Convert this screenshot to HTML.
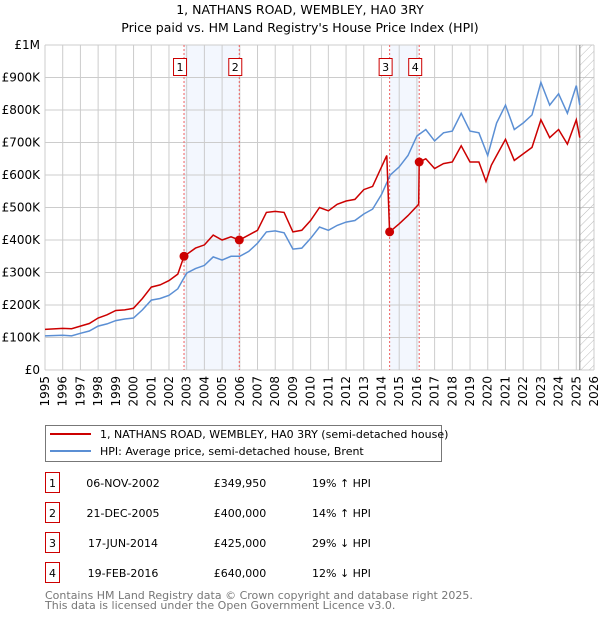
<!DOCTYPE html>
<html><head><meta charset="utf-8"><style>
body{margin:0;background:#fff;font-family:"Liberation Sans","DejaVu Sans",sans-serif;}
svg text{font-family:"DejaVu Sans","Liberation Sans",sans-serif;}
</style></head><body>
<svg id="c" width="600" height="620" xmlns="http://www.w3.org/2000/svg">
<defs><pattern id="hatch" width="6" height="6" patternUnits="userSpaceOnUse" patternTransform="rotate(45)"><line x1="0" y1="0" x2="0" y2="6" stroke="#bbb" stroke-width="1"/></pattern></defs>
<text x="300" y="14" text-anchor="middle" font-size="12.5">1, NATHANS ROAD, WEMBLEY, HA0 3RY</text>
<text x="300" y="32" text-anchor="middle" font-size="12.5">Price paid vs. HM Land Registry's House Price Index (HPI)</text>
<g id="plot"></g>
<g>
<rect x="45.5" y="425.5" width="396" height="36" fill="#fff" stroke="#777"/>
<line x1="50" y1="434" x2="91" y2="434" stroke="#cc0000" stroke-width="2"/>
<text x="100" y="438" font-size="11">1, NATHANS ROAD, WEMBLEY, HA0 3RY (semi-detached house)</text>
<line x1="50" y1="451" x2="91" y2="451" stroke="#5b8fd4" stroke-width="2"/>
<text x="100" y="455" font-size="11">HPI: Average price, semi-detached house, Brent</text>
</g>
<g id="table" font-size="11"></g>
<text x="45" y="599" font-size="11" fill="#777">Contains HM Land Registry data © Crown copyright and database right 2025.</text>
<text x="45" y="609" font-size="11" fill="#777">This data is licensed under the Open Government Licence v3.0.</text>
</svg>
<script>
const yTicks=[0,100000,200000,300000,400000,500000,600000,700000,800000,900000,1000000];
const yTickLabels=["£0","£100K","£200K","£300K","£400K","£500K","£600K","£700K","£800K","£900K","£1M"];
const years=[1995,1996,1997,1998,1999,2000,2001,2002,2003,2004,2005,2006,2007,2008,2009,2010,2011,2012,2013,2014,2015,2016,2017,2018,2019,2020,2021,2022,2023,2024,2025,2026];
const hpiT=[1995,1996,1996.5,1997,1997.5,1998,1998.5,1999,1999.5,2000,2000.5,2001,2001.5,2002,2002.5,2003,2003.5,2004,2004.5,2005,2005.5,2006,2006.5,2007,2007.5,2008,2008.5,2009,2009.5,2010,2010.5,2011,2011.5,2012,2012.5,2013,2013.5,2014,2014.5,2015,2015.5,2016,2016.5,2017,2017.5,2018,2018.5,2019,2019.5,2020,2020.5,2021,2021.5,2022,2022.5,2023,2023.5,2024,2024.5,2025,2025.2];
const hpiV=[105,107,105,113,120,135,142,152,157,160,185,215,220,230,250,298,312,322,348,338,350,350,365,390,425,428,422,372,375,405,440,430,445,455,460,480,495,540,600,625,660,720,740,705,730,735,790,735,730,660,760,815,740,760,785,885,815,850,790,875,815];
const redT=[1995,1996,1996.5,1997,1997.5,1998,1998.5,1999,1999.5,2000,2000.5,2001,2001.5,2002,2002.5,2002.85,2003.5,2004,2004.5,2005,2005.5,2005.97,2006.5,2007,2007.5,2008,2008.5,2009,2009.5,2010,2010.5,2011,2011.5,2012,2012.5,2013,2013.5,2014,2014.3,2014.46,2015,2015.5,2016.1,2016.13,2016.5,2017,2017.5,2018,2018.5,2019,2019.5,2019.9,2020.2,2020.5,2021,2021.5,2022,2022.5,2023,2023.5,2024,2024.5,2025,2025.2];
const redV=[125,128,127,135,143,160,170,183,185,190,220,255,262,275,295,350,375,385,415,400,410,400,415,430,485,488,485,425,430,460,500,490,510,520,525,555,565,625,660,425,450,475,510,640,650,620,635,640,690,640,640,580,630,660,710,645,665,685,770,715,740,695,770,715];
const saleLabels=["1","2","3","4"];
const saleT=[2002.85,2005.97,2014.46,2016.13];
const saleV=[349950,400000,425000,640000];
const saleDates=["06-NOV-2002","21-DEC-2005","17-JUN-2014","19-FEB-2016"];
const salePrices=["£349,950","£400,000","£425,000","£640,000"];
const saleHpi=["19% ↑ HPI","14% ↑ HPI","29% ↓ HPI","12% ↓ HPI"];
const hatchStart=2025.2;

const NS="http://www.w3.org/2000/svg";
const X0=45,X1=594,Y0=370,Y1=45;
const xs=t=>X0+(t-1995)/(2026-1995)*(X1-X0);
const ys=v=>Y0-v/1000000*(Y0-Y1);
const plot=document.getElementById('plot');
function mk(tag,attrs,parent){const e=document.createElementNS(NS,tag);for(const k in attrs)e.setAttribute(k,attrs[k]);(parent||plot).appendChild(e);return e;}
for(let i=0;i<4;i+=2){const r=mk('rect',{x:xs(saleT[i]),y:Y1,width:xs(saleT[i+1])-xs(saleT[i]),height:Y0-Y1,fill:'#f3f7fe'});

}
years.forEach(y=>{const l=mk('line',{x1:xs(y),x2:xs(y),y1:Y1,y2:Y0,stroke:'#ccc','stroke-width':1});


const t=mk('text',{x:0,y:0,'font-size':12,'text-anchor':'end',transform:`translate(${xs(y)+4},${Y0+6}) rotate(-90)`});t.textContent=y;

});
yTicks.forEach((v,i)=>{const l=mk('line',{x1:X0,x2:X1,y1:ys(v),y2:ys(v),stroke:'#ccc','stroke-width':1});


const t=mk('text',{x:X0-5,y:ys(v)+4,'font-size':12,'text-anchor':'end'});t.textContent=yTickLabels[i];

});
const h=mk('rect',{x:xs(hatchStart),y:Y1,width:X1-xs(hatchStart),height:Y0-Y1,fill:'url(#hatch)'});


mk('line',{x1:xs(hatchStart),x2:xs(hatchStart),y1:Y1,y2:Y0,stroke:'#888','stroke-width':1});
saleT.forEach((t,i)=>{const l=mk('line',{x1:xs(t),x2:xs(t),y1:Y1,y2:Y0,stroke:'#f06060','stroke-width':1,'stroke-dasharray':'2,2'});


const g=mk('g',{});


mk('rect',{x:xs(t)-10.5,y:58.5,width:13,height:17,fill:'#fff',stroke:'#cc0000'},g);
const tx=mk('text',{x:xs(t)-4,y:71,'font-size':11,'text-anchor':'middle'},g);tx.textContent=saleLabels[i];});
const line=(T,V)=>T.map((t,i)=>(i?'L':'M')+xs(t).toFixed(1)+','+ys(V[i]*1000).toFixed(1)).join('');
const hp=mk('path',{d:line(hpiT,hpiV),fill:'none',stroke:'#5b8fd4','stroke-width':1.5});


const rp=mk('path',{d:line(redT,redV),fill:'none',stroke:'#cc0000','stroke-width':1.5});


saleT.forEach((t,i)=>{const c=mk('circle',{cx:xs(t),cy:ys(saleV[i]),r:4.5,fill:'#cc0000'});

});
const tb=document.getElementById('table');
saleLabels.forEach((s,i)=>{const y=483+i*30;const g=mk('g',{},tb);


mk('rect',{x:45.5,y:y-10.5,width:14,height:20,fill:'#fff',stroke:'#cc0000'},g);
const vals=[[s,52.5,'middle'],[saleDates[i],123,'middle'],[salePrices[i],240,'middle'],[saleHpi[i],312,'start']];
vals.forEach(v=>{const t=mk('text',{x:v[1],y:y+4,'text-anchor':v[2],'font-size':11},g);t.textContent=v[0];});});
</script>
</body></html>
